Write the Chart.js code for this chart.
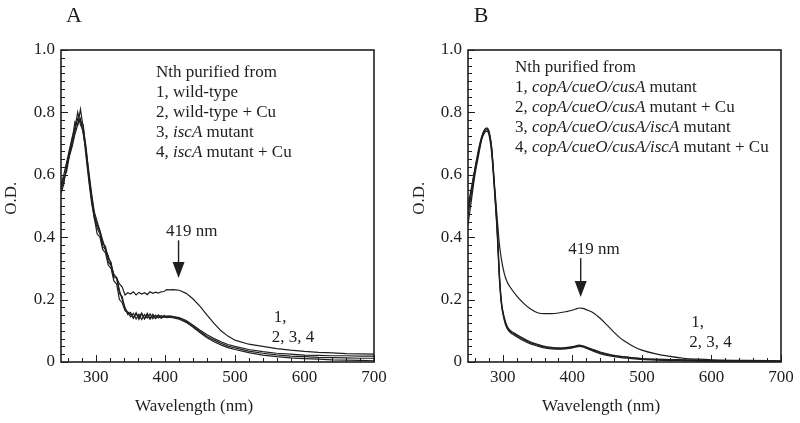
<!DOCTYPE html>
<html>
<head>
<meta charset="utf-8">
<script src="https://cdn.jsdelivr.net/npm/chart.js@4.4.1/dist/chart.umd.min.js"></script>
<style>
  html, body { margin: 0; padding: 0; background: #fff; }
  #wrap { position: relative; width: 800px; height: 423px; }
  canvas { position: absolute; top: 0; }
</style>
</head>
<body>
<div id="wrap">
  <canvas id="chartA" width="400" height="423" style="left:0"></canvas>
  <canvas id="chartB" width="400" height="423" style="left:400px"></canvas>
</div>
<script>
'use strict';

// --- Panel A: Nth from wild-type / iscA mutant ---
const wavelengthA = [
  250, 254, 258, 262, 266, 270, 274, 278, 282, 286, 290, 294, 298,
  302, 306, 310, 314, 318, 322, 326, 330, 334, 338, 342, 346,
  350, 354, 358, 362, 366, 370, 374, 378, 382, 386, 390, 394, 398,
  402, 406, 410, 415, 420,
  430, 440, 450, 460, 470, 480, 490, 500,
  520, 540, 560, 580, 600, 620, 640, 660, 680, 700,
];
const wildType = [
  0.57, 0.60, 0.64, 0.68, 0.72, 0.75, 0.80, 0.76, 0.74, 0.66, 0.58, 0.51, 0.46,
  0.43, 0.41, 0.37, 0.36, 0.32, 0.31, 0.28, 0.27, 0.25, 0.24, 0.215, 0.222,
  0.218, 0.225, 0.215, 0.223, 0.218, 0.222, 0.216, 0.225, 0.22, 0.224, 0.221, 0.225, 0.226,
  0.232, 0.231, 0.232, 0.231, 0.23,
  0.22, 0.202, 0.178, 0.15, 0.124, 0.1, 0.083, 0.07,
  0.057, 0.05, 0.043, 0.038, 0.034, 0.031, 0.029, 0.027, 0.026, 0.025,
];
const wildTypeCu = [
  0.55, 0.58, 0.62, 0.67, 0.71, 0.77, 0.76, 0.81, 0.75, 0.69, 0.60, 0.53, 0.47,
  0.44, 0.42, 0.38, 0.37, 0.33, 0.32, 0.27, 0.27, 0.22, 0.21, 0.17, 0.16,
  0.153, 0.141, 0.158, 0.137, 0.154, 0.139, 0.156, 0.14, 0.153, 0.142, 0.151, 0.143, 0.149,
  0.146, 0.148, 0.146, 0.144, 0.142,
  0.133, 0.118, 0.102, 0.087, 0.075, 0.065, 0.056, 0.05,
  0.04, 0.033, 0.028, 0.025, 0.022, 0.021, 0.02, 0.02, 0.019, 0.019,
];
const iscA = [
  0.54, 0.57, 0.63, 0.66, 0.70, 0.74, 0.78, 0.77, 0.76, 0.67, 0.59, 0.52, 0.46,
  0.41, 0.40, 0.36, 0.35, 0.31, 0.30, 0.26, 0.25, 0.20, 0.19, 0.165, 0.158,
  0.145, 0.156, 0.138, 0.153, 0.136, 0.152, 0.141, 0.154, 0.139, 0.15, 0.141, 0.149, 0.143,
  0.147, 0.145, 0.146, 0.143, 0.14,
  0.13, 0.114, 0.098, 0.082, 0.07, 0.06, 0.051, 0.045,
  0.035, 0.028, 0.023, 0.019, 0.017, 0.015, 0.014, 0.013, 0.012, 0.012,
];
const iscACu = [
  0.56, 0.59, 0.61, 0.66, 0.69, 0.73, 0.76, 0.78, 0.73, 0.68, 0.61, 0.54, 0.48,
  0.45, 0.42, 0.39, 0.36, 0.34, 0.31, 0.28, 0.27, 0.23, 0.2, 0.175, 0.152,
  0.159, 0.14, 0.155, 0.143, 0.157, 0.138, 0.151, 0.137, 0.149, 0.139, 0.148, 0.14, 0.145,
  0.142, 0.144, 0.142, 0.14, 0.137,
  0.127, 0.111, 0.094, 0.078, 0.065, 0.055, 0.046, 0.04,
  0.03, 0.022, 0.017, 0.013, 0.011, 0.009, 0.007, 0.006, 0.005, 0.004,
];

// --- Panel B: Nth from copA/cueO/cusA (+ iscA) mutants ---
const wavelengthB = [
  250, 255, 260, 265, 270, 274, 277, 280, 284, 288, 292,
  295, 298, 302, 306, 310, 320, 330, 340, 350, 360, 370,
  380, 390, 400, 405, 410, 415, 420, 430, 440, 450, 460,
  470, 480, 490, 500, 520, 540, 560, 580, 600, 650, 700,
];
const tripleMutant = [
  0.49, 0.55, 0.62, 0.67, 0.72, 0.745, 0.75, 0.74, 0.69, 0.57, 0.46,
  0.38, 0.33, 0.285, 0.258, 0.242, 0.212, 0.188, 0.17, 0.158, 0.155, 0.155,
  0.157, 0.161, 0.166, 0.17, 0.173, 0.172, 0.168, 0.158, 0.14, 0.118, 0.095,
  0.075, 0.06, 0.047, 0.038, 0.026, 0.018, 0.012, 0.009, 0.007, 0.005, 0.004,
];
const tripleMutantCu = [
  0.47, 0.54, 0.61, 0.67, 0.72, 0.74, 0.745, 0.735, 0.68, 0.56, 0.42,
  0.28, 0.19, 0.14, 0.112, 0.1, 0.085, 0.072, 0.062, 0.055, 0.048, 0.045,
  0.043, 0.044, 0.047, 0.05, 0.052, 0.05, 0.046, 0.038, 0.03, 0.024, 0.02,
  0.017, 0.015, 0.012, 0.01, 0.008, 0.007, 0.006, 0.005, 0.004, 0.003, 0.002,
];
const quadMutant = [
  0.44, 0.52, 0.60, 0.66, 0.715, 0.735, 0.74, 0.73, 0.67, 0.55, 0.41,
  0.27, 0.185, 0.135, 0.108, 0.096, 0.081, 0.068, 0.058, 0.051, 0.045, 0.042,
  0.041, 0.042, 0.045, 0.048, 0.05, 0.048, 0.044, 0.035, 0.027, 0.021, 0.017,
  0.014, 0.012, 0.01, 0.008, 0.006, 0.005, 0.004, 0.003, 0.002, 0.001, 0.0,
];
const quadMutantCu = [
  0.5, 0.56, 0.62, 0.68, 0.725, 0.745, 0.75, 0.74, 0.685, 0.565, 0.43,
  0.29, 0.195, 0.145, 0.116, 0.103, 0.088, 0.075, 0.064, 0.057, 0.05, 0.047,
  0.045, 0.046, 0.049, 0.052, 0.054, 0.052, 0.048, 0.04, 0.032, 0.026, 0.021,
  0.018, 0.016, 0.013, 0.011, 0.009, 0.008, 0.007, 0.006, 0.005, 0.004, 0.003,
];

const INK = '#1e1e1e';
const SERIF = '"Liberation Serif", "Times New Roman", serif';
const FONT_PX = 17;

/** True when v sits on a multiple of step (floating-safe). */
const onStep = (v, step) => Math.abs(v / step - Math.round(v / step)) < 1e-6;

/** Draw text with *italic* segments, left-aligned. */
function drawRich(ctx, text, x, y) {
  let cx = x;
  text.split('*').forEach((part, i) => {
    ctx.font = (i % 2 ? 'italic ' : '') + FONT_PX + 'px ' + SERIF;
    ctx.fillText(part, cx, y);
    cx += ctx.measureText(part).width;
  });
}

// Inward ticks, frame, panel letter, axis titles, legend text and arrow
const decor = {
  id: 'decor',
  afterDraw(chart, args, opts) {
    const { ctx, chartArea: a, scales: { x, y } } = chart;
    ctx.save();
    ctx.strokeStyle = INK;
    ctx.fillStyle = INK;

    ctx.lineWidth = 1;
    ctx.beginPath();
    y.ticks.forEach(t => {
      const py = Math.round(y.getPixelForValue(t.value)) + 0.5;
      const len = onStep(t.value, 0.2) ? 7 : 4;
      ctx.moveTo(a.left, py);
      ctx.lineTo(a.left + len, py);
    });
    x.ticks.forEach(t => {
      const px = Math.round(x.getPixelForValue(t.value)) + 0.5;
      const len = onStep(t.value, 100) ? 7 : 4;
      ctx.moveTo(px, a.bottom);
      ctx.lineTo(px, a.bottom - len);
    });
    ctx.stroke();

    ctx.lineWidth = 1.6;
    ctx.strokeRect(a.left, a.top, a.right - a.left, a.bottom - a.top);

    ctx.textBaseline = 'middle';
    ctx.textAlign = 'center';
    ctx.font = '22px ' + SERIF;
    ctx.fillText(opts.letter, a.left + 13, 16);

    ctx.font = FONT_PX + 'px ' + SERIF;
    ctx.fillText('Wavelength (nm)', a.left + (a.right - a.left) * 0.425, 407);
    ctx.save();
    ctx.translate(opts.titleX, a.top + (a.bottom - a.top) * 0.475);
    ctx.rotate(-Math.PI / 2);
    ctx.fillText('O.D.', 0, 0);
    ctx.restore();

    ctx.textAlign = 'left';
    opts.legend.forEach((line, i) => {
      drawRich(ctx, line, a.left + opts.legendDx, opts.legendTop + i * 20);
    });

    // 419 nm arrow
    const ax = x.getPixelForValue(opts.arrow.nm);
    const yTail = y.getPixelForValue(opts.arrow.from);
    const yTip = y.getPixelForValue(opts.arrow.to);
    ctx.font = FONT_PX + 'px ' + SERIF;
    ctx.fillText('419 nm', ax - 12.5, yTail - 9);
    ctx.lineWidth = 1.4;
    ctx.beginPath();
    ctx.moveTo(ax, yTail);
    ctx.lineTo(ax, yTip - 12);
    ctx.stroke();
    ctx.beginPath();
    ctx.moveTo(ax - 6, yTip - 16);
    ctx.lineTo(ax + 6, yTip - 16);
    ctx.lineTo(ax, yTip);
    ctx.closePath();
    ctx.fill();

    // curve numbering
    const nx = x.getPixelForValue(opts.numbers.nm);
    const ny = y.getPixelForValue(opts.numbers.od);
    ctx.fillText('1,', nx + 2, ny);
    ctx.fillText('2, 3, 4', nx, ny + 20);

    ctx.restore();
  },
};

function spectrumChart(canvasId, wavelengths, series, smooth, axisWidth, padRight, decorOpts) {
  const tickFont = { family: SERIF, size: FONT_PX };
  return new Chart(document.getElementById(canvasId), {
    type: 'line',
    data: {
      datasets: series.map(s => ({
        label: s.label,
        data: wavelengths.map((w, i) => ({ x: w, y: s.values[i] })),
        borderColor: INK,
        borderWidth: 1.2,
        pointRadius: 0,
        fill: false,
        tension: smooth ? 0.4 : 0,
        cubicInterpolationMode: smooth ? 'monotone' : 'default',
      })),
    },
    options: {
      responsive: false,
      animation: false,
      events: [],
      layout: { padding: { top: 50, right: padRight, left: 0, bottom: 0 } },
      scales: {
        x: {
          type: 'linear',
          min: 250,
          max: 700,
          afterFit: s => { s.height = 61; },
          grid: { display: false, drawTicks: false },
          border: { display: false },
          ticks: {
            stepSize: 20,
            includeBounds: false,
            autoSkip: false,
            maxRotation: 0,
            padding: 5,
            color: INK,
            font: tickFont,
            callback: v => (onStep(v, 100) ? String(v) : ''),
          },
        },
        y: {
          min: 0,
          max: 1,
          afterFit: s => { s.width = axisWidth; },
          grid: { display: false, drawTicks: false },
          border: { display: false },
          ticks: {
            stepSize: 0.025,
            autoSkip: false,
            padding: 6,
            color: INK,
            font: tickFont,
            callback: v => (onStep(v, 0.2) ? (v === 0 ? '0' : v.toFixed(1)) : ''),
          },
        },
      },
      plugins: {
        legend: { display: false },
        tooltip: { enabled: false },
        decor: decorOpts,
      },
    },
    plugins: [decor],
  });
}

spectrumChart('chartA', wavelengthA, [
  { label: '1, wild-type', values: wildType },
  { label: '2, wild-type + Cu', values: wildTypeCu },
  { label: '3, iscA mutant', values: iscA },
  { label: '4, iscA mutant + Cu', values: iscACu },
], false, 61, 26, {
  letter: 'A',
  titleX: 12,
  legendDx: 95,
  legendTop: 73,
  legend: [
    'Nth purified from',
    '1, wild-type',
    '2, wild-type + Cu',
    '3, *iscA* mutant',
    '4, *iscA* mutant + Cu',
  ],
  arrow: { nm: 419, from: 0.39, to: 0.269 },
  numbers: { nm: 553, od: 0.144 },
});

spectrumChart('chartB', wavelengthB, [
  { label: '1, copA/cueO/cusA mutant', values: tripleMutant },
  { label: '2, copA/cueO/cusA mutant + Cu', values: tripleMutantCu },
  { label: '3, copA/cueO/cusA/iscA mutant', values: quadMutant },
  { label: '4, copA/cueO/cusA/iscA mutant + Cu', values: quadMutantCu },
], true, 68, 19, {
  letter: 'B',
  titleX: 20,
  legendDx: 47,
  legendTop: 68,
  legend: [
    'Nth purified from',
    '1, *copA/cueO/cusA* mutant',
    '2, *copA/cueO/cusA* mutant + Cu',
    '3, *copA/cueO/cusA/iscA* mutant',
    '4, *copA/cueO/cusA/iscA* mutant + Cu',
  ],
  arrow: { nm: 412, from: 0.333, to: 0.208 },
  numbers: { nm: 568, od: 0.125 },
});
</script>
</body>
</html>
